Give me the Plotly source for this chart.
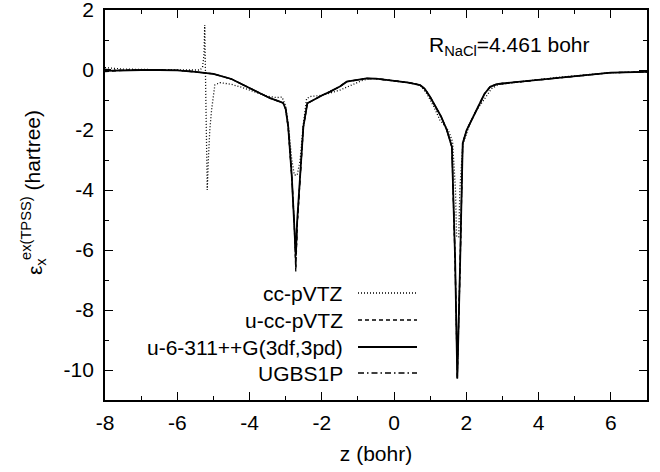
import plotly.graph_objects as go

# ---- data ----
z_main = [-8.0, -7.5, -7.0, -6.5, -6.0, -5.5, -5.0, -4.5, -4.26, -4.0, -3.8, -3.43, -3.2, -3.07,
          -3.0, -2.93, -2.83, -2.76, -2.72, -2.68, -2.60, -2.51, -2.40, -2.2, -2.0, -1.77, -1.5,
          -1.31, -1.0, -0.76, -0.5, -0.2, 0.1, 0.4, 0.72, 0.85, 1.0, 1.09, 1.3, 1.46, 1.60, 1.69,
          1.75, 1.83, 1.90, 2.01, 2.2, 2.38, 2.5, 2.66, 2.84, 3.0, 3.49, 3.85, 4.5, 5.23, 6.0, 7.0]

eps_u6311 = [-0.03, -0.01, 0.0, 0.0, -0.01, -0.06, -0.13, -0.3, -0.44, -0.58, -0.72, -0.94, -1.04,
             -1.1, -1.3, -1.89, -3.56, -5.0, -6.2, -5.0, -3.56, -1.89, -1.11, -0.97, -0.85, -0.72,
             -0.55, -0.39, -0.32, -0.28, -0.29, -0.33, -0.37, -0.42, -0.5, -0.63, -0.9, -1.11,
             -1.55, -2.0, -2.56, -6.33, -10.28, -6.33, -2.44, -2.0, -1.55, -1.11, -0.8, -0.56,
             -0.47, -0.45, -0.39, -0.33, -0.25, -0.17, -0.09, -0.06]

eps_uccpvtz = [-0.05, -0.01, 0.0, 0.0, -0.01, -0.06, -0.13, -0.3, -0.44, -0.58, -0.72, -0.94, -1.04,
               -1.1, -1.3, -1.9, -3.6, -5.2, -6.72, -5.2, -3.6, -1.9, -1.11, -0.97, -0.85, -0.72,
               -0.55, -0.39, -0.32, -0.28, -0.29, -0.33, -0.37, -0.42, -0.5, -0.63, -0.9, -1.11,
               -1.55, -2.0, -2.56, -6.4, -10.3, -6.4, -2.44, -2.0, -1.55, -1.11, -0.8, -0.56,
               -0.47, -0.45, -0.39, -0.33, -0.25, -0.17, -0.09, -0.06]

eps_ugbs1p = [0.02, -0.01, 0.0, 0.0, -0.01, -0.06, -0.13, -0.3, -0.44, -0.58, -0.72, -0.94, -1.04,
              -1.1, -1.3, -1.9, -3.58, -5.1, -6.6, -5.1, -3.58, -1.9, -1.11, -0.97, -0.85, -0.72,
              -0.55, -0.39, -0.32, -0.28, -0.29, -0.33, -0.37, -0.42, -0.5, -0.63, -0.9, -1.11,
              -1.55, -2.0, -2.56, -6.35, -10.25, -6.35, -2.44, -2.0, -1.55, -1.11, -0.8, -0.56,
              -0.47, -0.45, -0.39, -0.33, -0.25, -0.17, -0.09, -0.06]

z_ccpvtz = [-8.0, -7.8, -7.5, -7.0, -6.5, -6.0, -5.6, -5.37, -5.30, -5.26, -5.24, -5.22, -5.19,
            -5.17, -5.14, -5.10, -5.05, -4.96, -4.82, -4.5, -4.26, -3.9, -3.52, -3.25, -3.1, -3.0,
            -2.93, -2.83, -2.76, -2.72, -2.68, -2.60, -2.51, -2.42, -2.3, -2.1, -1.8, -1.5, -1.2,
            -0.9, -0.7, -0.5, -0.2, 0.1, 0.4, 0.72, 0.9, 1.09, 1.27, 1.5, 1.62, 1.70, 1.73, 1.79,
            1.82, 1.90, 2.01, 2.10, 2.25, 2.47, 2.7, 2.9, 3.49, 3.85, 4.5, 5.23, 6.0, 7.0]

eps_ccpvtz = [0.08, 0.05, 0.03, 0.02, 0.0, 0.0, 0.0, 0.0, 0.1, 0.5, 1.5, 0.0, -2.5, -4.0, -3.0,
              -2.0, -1.33, -0.5, -0.42, -0.48, -0.56, -0.72, -0.87, -0.92, -0.9, -1.2, -1.8, -3.0,
              -3.5, -3.5, -3.5, -3.0, -1.8, -0.95, -0.88, -0.86, -0.78, -0.67, -0.52, -0.36, -0.29,
              -0.29, -0.33, -0.37, -0.42, -0.5, -0.78, -1.2, -1.67, -2.0, -2.4, -4.0, -5.56, -5.56,
              -4.0, -2.5, -2.1, -1.78, -1.4, -1.0, -0.62, -0.48, -0.39, -0.33, -0.25, -0.17, -0.09,
              -0.06]

series_names = ["cc-pVTZ", "u-cc-pVTZ", "u-6-311++G(3df,3pd)", "UGBS1P"]

x_tick_vals = [-8, -6, -4, -2, 0, 2, 4, 6]
x_tick_text = ["-8", "-6", "-4", "-2", "0", "2", "4", "6"]
y_tick_vals = [2, 0, -2, -4, -6, -8, -10]
y_tick_text = ["2", "0", "-2", "-4", "-6", "-8", "-10"]

# ---- styling ----
FONT = "Liberation Sans, Arial, sans-serif"
FS = 21
dashes = ["1px,2px", "4px,3px", "solid", "6px,3px,1.5px,3px"]
widths = [1.3, 1.3, 1.8, 1.3]

xs = [z_ccpvtz, z_main, z_main, z_main]
ys = [eps_ccpvtz, eps_uccpvtz, eps_u6311, eps_ugbs1p]

fig = go.Figure()
for i in [0, 1, 3, 2]:
    fig.add_trace(go.Scatter(x=xs[i], y=ys[i], mode="lines", name=series_names[i],
                             line=dict(color="black", width=widths[i], dash=dashes[i]),
                             showlegend=False))

axis_common = dict(showline=True, linecolor="black", linewidth=1.8, mirror="ticks",
                   ticks="inside", ticklen=8, tickwidth=1.2, tickcolor="black",
                   showgrid=False, zeroline=False, automargin=False,
                   ticklabeloverflow="allow",
                   tickfont=dict(family=FONT, size=FS, color="black"),
                   minor=dict(ticks="inside", ticklen=4, tickwidth=1.2, tickcolor="black",
                              dtick=1, showgrid=False))

fig.update_xaxes(range=[-8, 7], tickvals=x_tick_vals, ticktext=x_tick_text,
                 ticklabelstandoff=3,
                 title=dict(text="z (bohr)", font=dict(family=FONT, size=FS, color="black"),
                            standoff=13),
                 **axis_common)
fig.update_yaxes(range=[-11, 2], tickvals=y_tick_vals, ticktext=y_tick_text,
                 ticklabelstandoff=5, **axis_common)

# legend drawn gnuplot-style: right-aligned text, line sample on the right
L, R, T, B = 105, 13, 10, 72
PW, PH = 660 - L - R, 472 - T - B
def px_x(p):
    return (p - L) / PW
def px_y(p):
    return (T + PH - p) / PH

leg_rows = [293, 320, 347, 373]
for i, name in enumerate(series_names):
    fig.add_annotation(x=px_x(345), y=px_y(leg_rows[i]), xref="paper", yref="paper",
                       text=name, showarrow=False, xanchor="right", yanchor="middle",
                       font=dict(family=FONT, size=FS, color="black"))
    fig.add_shape(type="line", xref="paper", yref="paper",
                  x0=px_x(358), x1=px_x(417), y0=px_y(leg_rows[i]), y1=px_y(leg_rows[i]),
                  line=dict(color="black", width=widths[i], dash=dashes[i]))

fig.add_annotation(x=px_x(427), y=px_y(46), xref="paper", yref="paper",
                   text="R<sub>NaCl</sub>=4.461 bohr", showarrow=False,
                   xanchor="left", yanchor="middle",
                   font=dict(family=FONT, size=FS, color="black"))

# y-axis title with stacked sub/superscript
fig.add_annotation(x=px_x(36), y=px_y(267), xref="paper", yref="paper",
                   text="ε<sub>x</sub>", textangle=-90, showarrow=False,
                   xanchor="center", yanchor="middle",
                   font=dict(family=FONT, size=FS, color="black"))
fig.add_annotation(x=px_x(31), y=px_y(185), xref="paper", yref="paper",
                   text="<sup>ex(TPSS)</sup> (hartree)", textangle=-90, showarrow=False,
                   xanchor="center", yanchor="middle",
                   font=dict(family=FONT, size=FS, color="black"))

fig.update_layout(width=660, height=472, margin=dict(l=L, r=R, t=T, b=B),
                  plot_bgcolor="white", paper_bgcolor="white",
                  font=dict(family=FONT, size=FS, color="black"))

fig.write_html("out.html", config={"displayModeBar": False},
               post_script="document.body.style.margin='0';document.body.style.padding='0';")
